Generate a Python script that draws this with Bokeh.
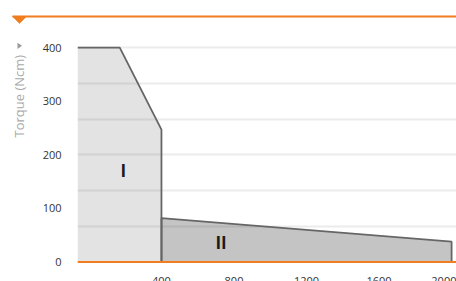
import math
from bokeh.plotting import figure
from bokeh.models import Range1d, FixedTicker, Span
from bokeh.layouts import column, row
from bokeh.embed import file_html
from bokeh.resources import INLINE
from bokeh.core.properties import value

# ---- data ----
speed_axis_min = -63
speed_axis_max = 2027
torque_axis_min = -2.8
torque_axis_max = 432

region_I_speed = [speed_axis_min, 170, 400]
region_I_torque = [400, 400, 247]
region_II_speed = [400, 2000]
region_II_torque = [82, 38]

region_labels = ["I", "II"]
region_label_speed = [189, 729]
region_label_torque = [171, 36]

y_tick_values = [0, 100, 200, 300, 400]
x_tick_values = [400, 800, 1200, 1600, 2000]
grid_values = [400 / 6 * i for i in range(1, 7)]
y_axis_title = ["Torque (Ncm)"]

ORANGE = "#f07d1e"
FONT = "Open Sans"

# ---- layout (page pixels; the page has no margin) ----
PAGE_W = 456
TOP_H = 30          # strip holding the orange rule
LEFT_W = 28         # strip holding the axis title
FRAME_L, FRAME_B = 77, 263
TOTAL_H = 289


def bare(fig):
    fig.outline_line_color = None
    fig.background_fill_color = "white"
    fig.border_fill_color = "white"
    fig.min_border_left = fig.min_border_right = 0
    fig.min_border_top = fig.min_border_bottom = 0
    fig.xgrid.visible = False
    fig.ygrid.visible = False
    return fig


# top strip: orange rule with marker (page pixel coordinates)
top = bare(figure(width=PAGE_W, height=TOP_H, output_backend="svg", toolbar_location=None,
                  x_range=Range1d(0, PAGE_W), y_range=Range1d(TOP_H, 0),
                  x_axis_type=None, y_axis_type=None))
top.segment(x0=[12], y0=[16], x1=[PAGE_W], y1=[16], line_color=ORANGE, line_width=2)
top.patch([12, 26, 19], [16, 16, 23], fill_color=ORANGE, line_color=ORANGE, line_width=0.5)

# left strip: axis title + marker (page pixel coordinates)
left = bare(figure(width=LEFT_W, height=TOTAL_H - TOP_H, output_backend="svg", toolbar_location=None,
                   x_range=Range1d(0, LEFT_W), y_range=Range1d(TOTAL_H, TOP_H),
                   x_axis_type=None, y_axis_type=None))
left.text([18], [103], text=y_axis_title, angle=math.pi / 2,
          text_font=value(FONT), text_font_size="13px", text_color="#aaaaaa",
          text_align="center", text_baseline="middle")
left.patch([17, 17, 21.5], [43.5, 50.5, 47], fill_color="#9a9a9a", line_color=None)

# main chart
p = figure(width=PAGE_W - LEFT_W, height=TOTAL_H - TOP_H, output_backend="svg", toolbar_location=None,
           x_range=Range1d(speed_axis_min, speed_axis_max),
           y_range=Range1d(torque_axis_min, torque_axis_max))
p.outline_line_color = None
p.background_fill_color = "white"
p.border_fill_color = "white"
p.min_border_left = FRAME_L - LEFT_W
p.min_border_right = 0
p.min_border_top = 0
p.min_border_bottom = TOTAL_H - FRAME_B

p.xgrid.visible = False
p.ygrid.ticker = FixedTicker(ticks=grid_values)
p.ygrid.grid_line_color = "#ececec"
p.ygrid.grid_line_width = 2
p.ygrid.level = "underlay"

xs1 = [region_I_speed[0]] + region_I_speed + [region_I_speed[-1]]
ys1 = [0] + region_I_torque + [0]
p.patch(xs1, ys1, fill_color="black", fill_alpha=0.11, line_color=None)
p.line(region_I_speed + [region_I_speed[-1]], region_I_torque + [0], line_color="#666666", line_width=1.8)

xs2 = [region_II_speed[0]] + region_II_speed + [region_II_speed[-1]]
ys2 = [0] + region_II_torque + [0]
p.patch(xs2, ys2, fill_color="black", fill_alpha=0.23, line_color=None)
p.line(xs2, ys2, line_color="#666666", line_width=1.8)

p.text(region_label_speed, region_label_torque, text=region_labels,
       text_font=value(FONT), text_font_size="17px", text_font_style="bold",
       text_color="#1a1a1a", text_align="center", text_baseline="middle")

p.add_layout(Span(location=0, dimension="width", line_color=ORANGE, line_width=2))

for ax in (p.xaxis[0], p.yaxis[0]):
    ax.axis_line_color = None
    ax.major_tick_line_color = None
    ax.minor_tick_line_color = None
    ax.major_label_text_font = FONT
    ax.major_label_text_font_size = "11px"
    ax.major_label_text_color = "#333333"
    ax.major_label_standoff = 10

p.xaxis.ticker = FixedTicker(ticks=x_tick_values)
p.yaxis.ticker = FixedTicker(ticks=y_tick_values)
p.xaxis.major_label_standoff = 7

layout = column(top, row(left, p, spacing=0), spacing=0)

html = file_html(layout, INLINE)
html = html.replace("</head>", "<style>html,body{overflow:hidden;}</style></head>", 1)
open("out.html", "w").write(html)
